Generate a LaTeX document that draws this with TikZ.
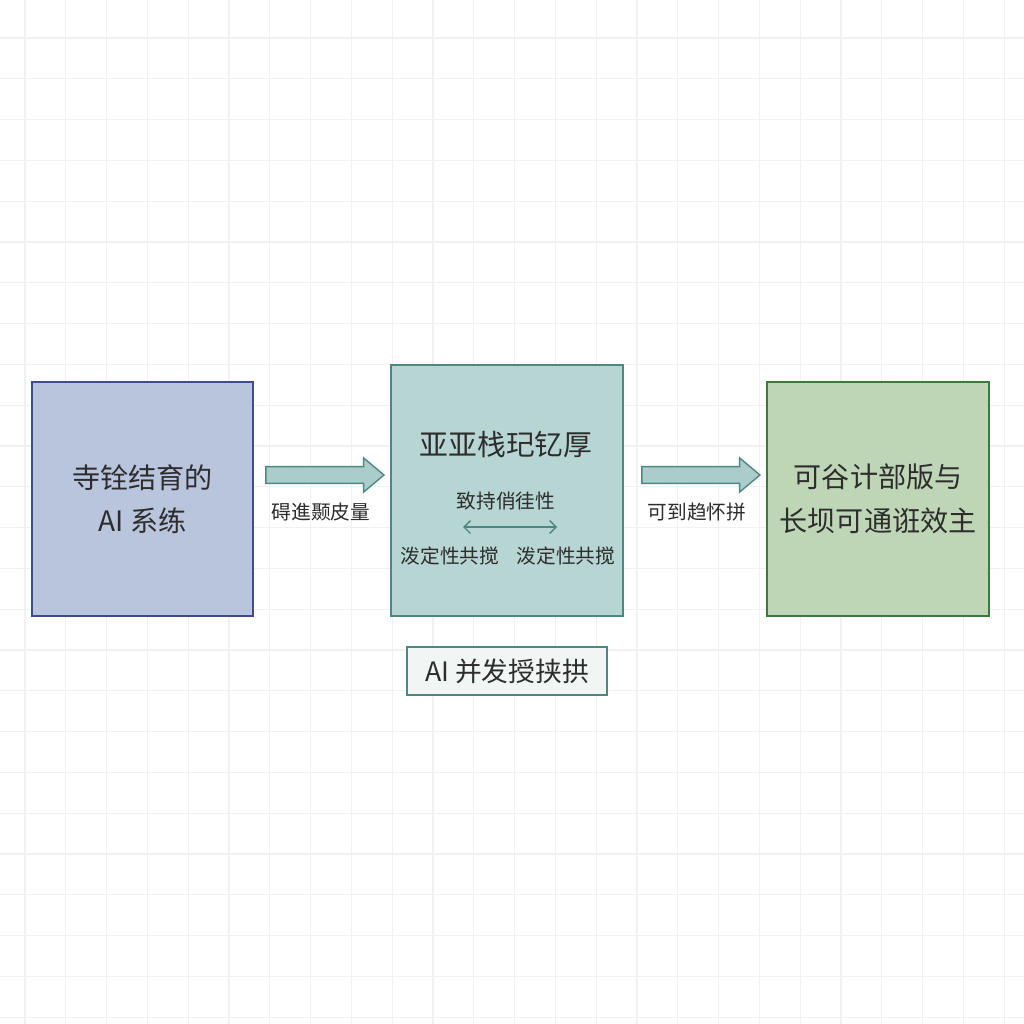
\documentclass[tikz,border=0pt]{standalone}
\usepackage{fontspec}
\setmainfont{Noto Sans CJK SC}
\usetikzlibrary{arrows.meta,positioning,shapes.arrows}
\definecolor{gridgray}{RGB}{240,241,242}
\definecolor{softblue}{RGB}{185,196,221}
\definecolor{blueline}{RGB}{62,76,140}
\definecolor{softteal}{RGB}{182,213,211}
\definecolor{tealline}{RGB}{74,136,128}
\definecolor{softgreen}{RGB}{190,214,182}
\definecolor{greenline}{RGB}{62,122,64}
\definecolor{arrowfill}{RGB}{170,205,203}
\definecolor{arrowline}{RGB}{78,136,132}
\definecolor{notefill}{RGB}{241,245,243}
\definecolor{textgray}{RGB}{45,45,45}

\begin{document}
\begin{tikzpicture}[x=0.025cm,y=-0.025cm,every node/.style={align=center,text=textgray},
  box/.style={draw,line width=1.4pt,inner sep=0pt},
  blockarrow/.style={single arrow,draw=arrowline,fill=arrowfill,line width=1pt,inner sep=0pt,inner ysep=0.19cm,
    minimum height=2.95cm,single arrow head extend=0.22cm,single arrow tip angle=80},
  bigtext/.style={font=\fontsize{20}{31}\selectfont},
  smalltext/.style={font=\fontsize{14}{17}\selectfont}]
\fill[white] (0,0) rectangle (1024,1024);
\useasboundingbox (0,0) rectangle (1024,1024);
\foreach \k in {0,...,24} {
  \draw[gridgray,line width=0.9pt] ({25+40.8*\k},0) -- ({25+40.8*\k},1024);
  \draw[gridgray,line width=0.9pt] (0,{38+40.8*\k}) -- (1024,{38+40.8*\k});
}
% three stages
\node[box,draw=blueline,fill=softblue,minimum width=5.525cm,minimum height=5.85cm,bigtext] (sys) at (142.5,499) {寺铨结育的\\AI 系练};
\node[box,draw=tealline,fill=softteal,minimum width=5.8cm,minimum height=6.275cm,right=3.4cm of sys.south east,anchor=south west] (mid) {};
\node[box,draw=greenline,fill=softgreen,minimum width=5.55cm,minimum height=5.85cm,bigtext,right=3.55cm of mid.south east,anchor=south west] (out) {可谷计部版与\\长坝可通诳效主};
% inside the middle box
\node[font=\fontsize{20.5}{24}\selectfont] (title) at (506,445) {亚亚栈玘钇厚};
\node[smalltext] (bal) at (506,501) {致持俏徍性};
\coordinate (bl) at (463,527);
\coordinate (br) at (557,527);
\draw[{Straight Barb[length=1.6mm,width=3.2mm]}-{Straight Barb[length=1.6mm,width=3.2mm]},tealline,line width=1pt] (bl) -- (br);
\node[smalltext] (pl) at (450,556) {泼定性共搅};
\node[smalltext] (pr) at (566,556) {泼定性共搅};
% block arrows
\node[blockarrow] (arr1) at (320,475) {};
\node[smalltext] (lab1) at (321,512) {碍進颞皮量};
\node[blockarrow] (arr2) at (696,475) {};
\node[smalltext] (lab2) at (697,512) {可到趋怀拼};
% note under the middle box
\node[box,draw=tealline,fill=notefill,line width=1.2pt,minimum width=5cm,minimum height=1.2cm,font=\fontsize{19}{22}\selectfont] (note) at (507,671) {AI 并发授挟拱};
\end{tikzpicture}
\end{document}
